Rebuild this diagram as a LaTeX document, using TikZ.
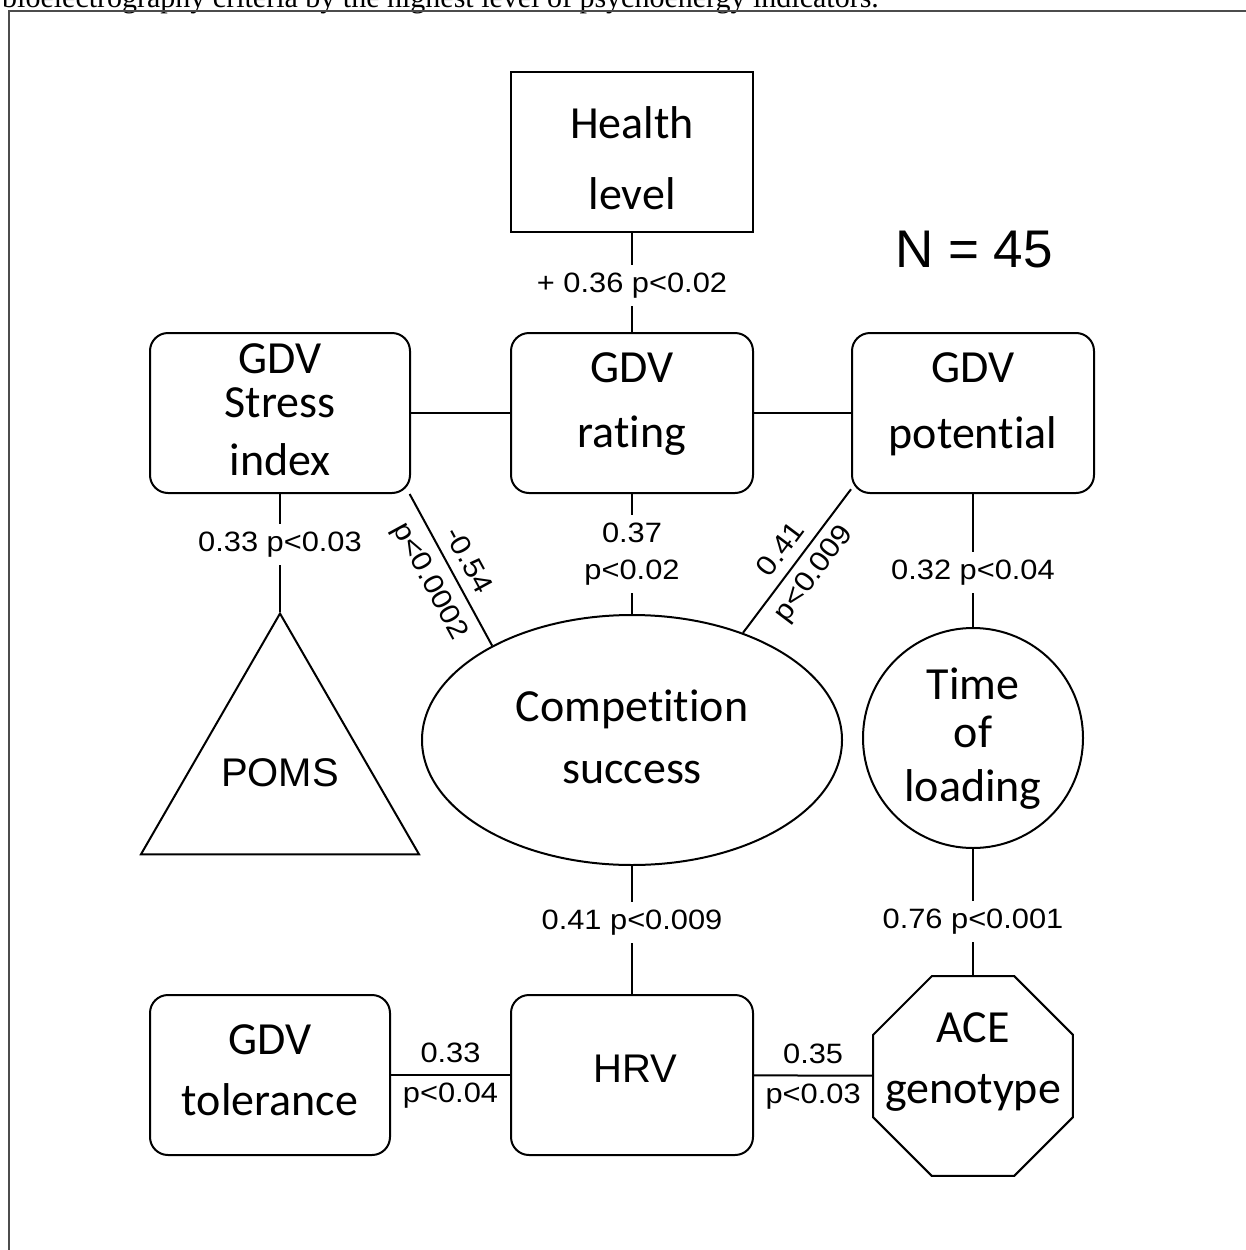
\documentclass[tikz,border=0pt]{standalone}
\usepackage{fontspec}
\setmainfont[Ligatures=NoCommon]{Carlito}
\newfontfamily\lblfont[FakeStretch=1.1]{Liberation Sans}
\newfontfamily\arialfont{Liberation Sans}
\newfontfamily\capfont{Liberation Serif}
\usetikzlibrary{shapes.geometric}

\tikzset{
    link/.style = {line width=2pt},
    sqbox/.style = {draw, line width=2pt, minimum width=242pt, minimum height=160pt, inner sep=0pt},
    rbox/.style = {sqbox, rounded corners=18pt},
    figure/.style = {draw, line width=2pt, inner sep=0pt},
    txt/.style = {anchor=base, inner sep=0pt, font=\fontsize{46}{46}\selectfont},
    lbl/.style = {fill=white, inner sep=8pt, align=center, font=\lblfont\fontsize{28}{37}\selectfont},
    sl/.style = {inner sep=3pt, font=\lblfont\fontsize{28}{37}\selectfont}
}

\begin{document}
\begin{tikzpicture}[x=1pt,y=-1pt]
    \useasboundingbox (0,0) rectangle (1246,1250);
    \clip (0,0) rectangle (1246,1250);
    % caption line cut off at the top, and the frame
    \node[anchor=base west, inner sep=0pt, font=\capfont\fontsize{30}{30}\selectfont] (caption) at (2,7) {bioelectrography criteria by the highest level of psychoenergy indicators.};
    \draw[line width=2.5pt, black!70] (9,1252) -- (9,11) -- (1248,11);

    % shapes
    \node[sqbox] (health) at (632,152) {};
    \node[rbox, minimum width=260pt] (stress) at (280,413) {};
    \node[rbox] (rating) at (632,413) {};
    \node[rbox] (potential) at (973,413) {};
    \node[figure, ellipse, minimum width=420pt, minimum height=250pt] (success) at (632,740) {};
    \node[figure, circle, minimum size=220pt] (loading) at (973,738) {};
    \node[figure, regular polygon, regular polygon sides=3, minimum size=321pt] (poms) at (280,774) {};
    \node[figure, regular polygon, regular polygon sides=8, minimum size=216pt] (ace) at (973,1076) {};
    \node[rbox, minimum width=240pt] (tolerance) at (270,1075) {};
    \node[rbox] (hrv) at (632,1075) {};

    % texts
    \node[txt] (health-a) at (632,138) {Health};
    \node[txt] (health-b) at (632,209) {level};
    \node[txt] (stress-a) at (280,373) {GDV};
    \node[txt] (stress-b) at (280,417) {Stress};
    \node[txt] (stress-c) at (280,475) {index};
    \node[txt] (rating-a) at (632,382) {GDV};
    \node[txt] (rating-b) at (632,447) {rating};
    \node[txt] (potential-a) at (973,382) {GDV};
    \node[txt] (potential-b) at (973,448) {potential};
    \node[txt] (success-a) at (632,721) {Competition};
    \node[txt] (success-b) at (632,783) {success};
    \node[txt] (loading-a) at (973,699) {Time};
    \node[txt] (loading-b) at (973,747) {of};
    \node[txt] (loading-c) at (973,801) {loading};
    \node[txt] (ace-a) at (973,1042) {ACE};
    \node[txt] (ace-b) at (973,1103) {genotype};
    \node[txt] (tolerance-a) at (270,1054) {GDV};
    \node[txt] (tolerance-b) at (270,1115) {tolerance};
    \node[txt, font=\arialfont\fontsize{40}{40}\selectfont] (hrv-a) at (635,1082) {HRV};
    \node[txt, font=\arialfont\fontsize{40}{40}\selectfont] (poms-a) at (280,786) {POMS};
    \node[anchor=base west, inner sep=0pt, font=\arialfont\fontsize{53}{53}\selectfont] (n) at (895,267) {N = 45};

    % connectors
    \draw[link] (stress) -- (rating);
    \draw[link] (rating) -- (potential);
    \draw[link] (health) -- node[lbl, pos=0.53] (l-health) {+ 0.36 p<0.02} (rating);
    \draw[link] (stress) -- node[lbl, pos=0.43] (l-poms) {0.33 p<0.03} (poms);
    \draw[link] (rating) -- node[lbl, pos=0.5] (l-rating) {0.37\\p<0.02} (success);
    \draw[link] (potential) -- node[lbl, pos=0.59] (l-potential) {0.32 p<0.04} (loading);
    \draw[link] (stress.-32) -- node[sl, sloped, above=7pt] (l-stress-a) {-0.54} node[sl, sloped, below=8pt] (l-stress-b) {p<0.0002} (success.146);
    \draw[link] (success.44) -- node[sl, sloped, above=7pt] (l-pot-a) {0.41} node[sl, sloped, below=5pt] (l-pot-b) {p<0.009} (potential.212);
    \draw[link] (success) -- node[lbl, pos=0.44] (l-success) {0.41 p<0.009} (hrv);
    \draw[link] (loading) -- node[lbl, pos=0.575] (l-loading) {0.76 p<0.001} (ace);
    \draw[link] (tolerance) -- node[sl, above=8pt] (l-tol-a) {0.33} node[sl, below=4pt] (l-tol-b) {p<0.04} (hrv);
    \draw[link] (hrv) -- node[sl, above=8pt] (l-ace-a) {0.35} node[sl, below=4pt] (l-ace-b) {p<0.03} (ace);
\end{tikzpicture}
\end{document}
